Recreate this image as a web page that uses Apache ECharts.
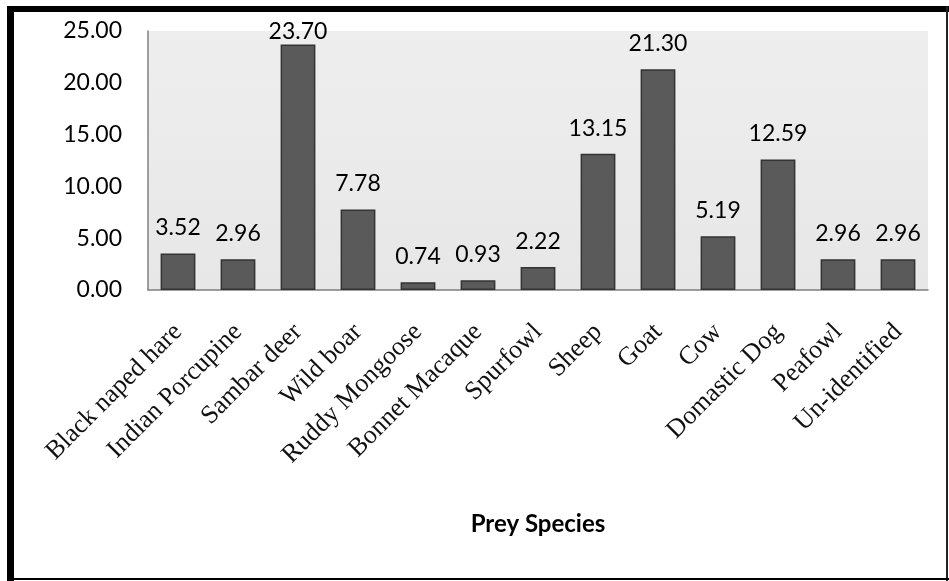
<!DOCTYPE html>
<html lang="en">
<head>
    <meta charset="UTF-8">
    <title>Prey Species</title>
    <script src="https://cdn.jsdelivr.net/npm/echarts@6/dist/echarts.min.js"></script>
    <style>
        html, body { margin: 0; padding: 0; background: #fff; }
    </style>
</head>
<body>
    <div id="chart" style="width: 949px; height: 581px;"></div>
    <script>
        // data
        var species = ["Black naped hare", "Indian Porcupine", "Sambar deer", "Wild boar", "Ruddy Mongoose",
            "Bonnet Macaque", "Spurfowl", "Sheep", "Goat", "Cow", "Domastic Dog", "Peafowl", "Un-identified"]
        var percent = [3.52, 2.96, 23.70, 7.78, 0.74, 0.93, 2.22, 13.15, 21.30, 5.19, 12.59, 2.96, 2.96]
        var yTicks = [0, 5, 10, 15, 20, 25]

        var chart = echarts.init(document.getElementById('chart'))

        var option = {
            backgroundColor: '#fff',
            animation: false,
            grid: {
                left: 148, right: 21, top: 31, bottom: 291,
                show: true,
                borderWidth: 0,
                backgroundColor: new echarts.graphic.LinearGradient(0, 0, 0, 1, [
                    { offset: 0, color: '#eeeeee' },
                    { offset: 1, color: '#e7e7e7' }
                ])
            },
            // outer frame
            graphic: [
                { type: 'rect', shape: { x: 7, y: 6, width: 7, height: 575 }, style: { fill: '#000' } },
                { type: 'rect', shape: { x: 7, y: 6, width: 942, height: 6 }, style: { fill: '#000' } },
                { type: 'rect', shape: { x: 946, y: 6, width: 2, height: 575 }, style: { fill: '#222' } },
                { type: 'rect', shape: { x: 7, y: 578, width: 942, height: 2 }, style: { fill: '#000' } }
            ],
            xAxis: {
                type: 'category',
                data: species,
                name: 'Prey Species',
                nameLocation: 'middle',
                nameGap: 222,
                nameTextStyle: { fontFamily: 'Lato', fontWeight: 'bold', fontSize: 24, color: '#000' },
                axisLine: { lineStyle: { color: '#808080', width: 1.5 } },
                axisTick: { show: false },
                axisLabel: {
                    interval: 0,
                    rotate: 45,
                    margin: 38,
                    fontFamily: 'Liberation Serif',
                    fontSize: 26,
                    color: '#111'
                }
            },
            yAxis: {
                type: 'value',
                min: yTicks[0],
                max: yTicks[yTicks.length - 1],
                interval: 5,
                axisLine: { show: true, lineStyle: { color: '#808080', width: 1.5 } },
                axisTick: { show: false },
                splitLine: { show: false },
                axisLabel: {
                    margin: 26,
                    fontFamily: 'Lato',
                    fontSize: 23,
                    color: '#000',
                    formatter: function (v) { return v.toFixed(2) }
                }
            },
            series: [
                {
                    type: 'bar',
                    data: percent,
                    barWidth: '58%',
                    itemStyle: { color: '#5a5a5a', borderColor: '#333', borderWidth: 1.5 },
                    label: {
                        show: true,
                        position: 'top',
                        distance: 14,
                        fontFamily: 'Lato',
                        fontSize: 23,
                        color: '#000',
                        formatter: function (p) { return p.value.toFixed(2) }
                    }
                }
            ],
            // keep the tallest label inside the frame, like the original
            labelLayout: function (p) {
                if (p.labelRect.y < 20) return { dy: 20 - p.labelRect.y }
            }
        }

        chart.setOption(option)
    </script>
</body>
</html>
